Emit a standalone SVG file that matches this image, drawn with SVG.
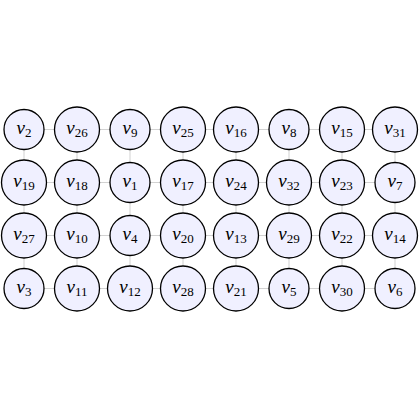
<svg xmlns="http://www.w3.org/2000/svg" width="420" height="420" viewBox="0 0 420 420">
<style>
.e{stroke:#b4b4b4;stroke-width:0.6;fill:none}
.n circle{fill:#f0f0ff;stroke:#000;stroke-width:1.3}
.n text{font-family:"Liberation Serif","DejaVu Serif",serif;font-style:italic;font-size:19px;text-anchor:middle;fill:#000}
.n tspan{font-style:normal;font-size:13px}
</style>
<rect width="420" height="420" fill="#fff"/>
<g id="edges" class="e">
<path d="M24 129.5H395M24 182.5H395M24 235.5H395M24 288.5H395"/>
<path d="M24 129.5V288.5M77 129.5V288.5M130 129.5V288.5M183 129.5V288.5M236 129.5V288.5M289 129.5V288.5M342 129.5V288.5M395 129.5V288.5"/>
</g>
<g id="v2" class="n"><circle cx="24" cy="129.5" r="20"/><text x="24" y="134">v<tspan dy="2.5">2</tspan></text></g>
<g id="v26" class="n"><circle cx="77" cy="129.5" r="22.5"/><text x="77" y="134">v<tspan dy="2.5">26</tspan></text></g>
<g id="v9" class="n"><circle cx="130" cy="129.5" r="20"/><text x="130" y="134">v<tspan dy="2.5">9</tspan></text></g>
<g id="v25" class="n"><circle cx="183" cy="129.5" r="22.5"/><text x="183" y="134">v<tspan dy="2.5">25</tspan></text></g>
<g id="v16" class="n"><circle cx="236" cy="129.5" r="22.5"/><text x="236" y="134">v<tspan dy="2.5">16</tspan></text></g>
<g id="v8" class="n"><circle cx="289" cy="129.5" r="20"/><text x="289" y="134">v<tspan dy="2.5">8</tspan></text></g>
<g id="v15" class="n"><circle cx="342" cy="129.5" r="22.5"/><text x="342" y="134">v<tspan dy="2.5">15</tspan></text></g>
<g id="v31" class="n"><circle cx="395" cy="129.5" r="22.5"/><text x="395" y="134">v<tspan dy="2.5">31</tspan></text></g>

<g id="v19" class="n"><circle cx="24" cy="182.5" r="22.5"/><text x="24" y="187">v<tspan dy="2.5">19</tspan></text></g>
<g id="v18" class="n"><circle cx="77" cy="182.5" r="22.5"/><text x="77" y="187">v<tspan dy="2.5">18</tspan></text></g>
<g id="v1" class="n"><circle cx="130" cy="182.5" r="20"/><text x="130" y="187">v<tspan dy="2.5">1</tspan></text></g>
<g id="v17" class="n"><circle cx="183" cy="182.5" r="22.5"/><text x="183" y="187">v<tspan dy="2.5">17</tspan></text></g>
<g id="v24" class="n"><circle cx="236" cy="182.5" r="22.5"/><text x="236" y="187">v<tspan dy="2.5">24</tspan></text></g>
<g id="v32" class="n"><circle cx="289" cy="182.5" r="22.5"/><text x="289" y="187">v<tspan dy="2.5">32</tspan></text></g>
<g id="v23" class="n"><circle cx="342" cy="182.5" r="22.5"/><text x="342" y="187">v<tspan dy="2.5">23</tspan></text></g>
<g id="v7" class="n"><circle cx="395" cy="182.5" r="20"/><text x="395" y="187">v<tspan dy="2.5">7</tspan></text></g>

<g id="v27" class="n"><circle cx="24" cy="235.5" r="22.5"/><text x="24" y="240">v<tspan dy="2.5">27</tspan></text></g>
<g id="v10" class="n"><circle cx="77" cy="235.5" r="22.5"/><text x="77" y="240">v<tspan dy="2.5">10</tspan></text></g>
<g id="v4" class="n"><circle cx="130" cy="235.5" r="20"/><text x="130" y="240">v<tspan dy="2.5">4</tspan></text></g>
<g id="v20" class="n"><circle cx="183" cy="235.5" r="22.5"/><text x="183" y="240">v<tspan dy="2.5">20</tspan></text></g>
<g id="v13" class="n"><circle cx="236" cy="235.5" r="22.5"/><text x="236" y="240">v<tspan dy="2.5">13</tspan></text></g>
<g id="v29" class="n"><circle cx="289" cy="235.5" r="22.5"/><text x="289" y="240">v<tspan dy="2.5">29</tspan></text></g>
<g id="v22" class="n"><circle cx="342" cy="235.5" r="22.5"/><text x="342" y="240">v<tspan dy="2.5">22</tspan></text></g>
<g id="v14" class="n"><circle cx="395" cy="235.5" r="22.5"/><text x="395" y="240">v<tspan dy="2.5">14</tspan></text></g>

<g id="v3" class="n"><circle cx="24" cy="288.5" r="20"/><text x="24" y="293">v<tspan dy="2.5">3</tspan></text></g>
<g id="v11" class="n"><circle cx="77" cy="288.5" r="22.5"/><text x="77" y="293">v<tspan dy="2.5">11</tspan></text></g>
<g id="v12" class="n"><circle cx="130" cy="288.5" r="22.5"/><text x="130" y="293">v<tspan dy="2.5">12</tspan></text></g>
<g id="v28" class="n"><circle cx="183" cy="288.5" r="22.5"/><text x="183" y="293">v<tspan dy="2.5">28</tspan></text></g>
<g id="v21" class="n"><circle cx="236" cy="288.5" r="22.5"/><text x="236" y="293">v<tspan dy="2.5">21</tspan></text></g>
<g id="v5" class="n"><circle cx="289" cy="288.5" r="20"/><text x="289" y="293">v<tspan dy="2.5">5</tspan></text></g>
<g id="v30" class="n"><circle cx="342" cy="288.5" r="22.5"/><text x="342" y="293">v<tspan dy="2.5">30</tspan></text></g>
<g id="v6" class="n"><circle cx="395" cy="288.5" r="20"/><text x="395" y="293">v<tspan dy="2.5">6</tspan></text></g>
</svg>
